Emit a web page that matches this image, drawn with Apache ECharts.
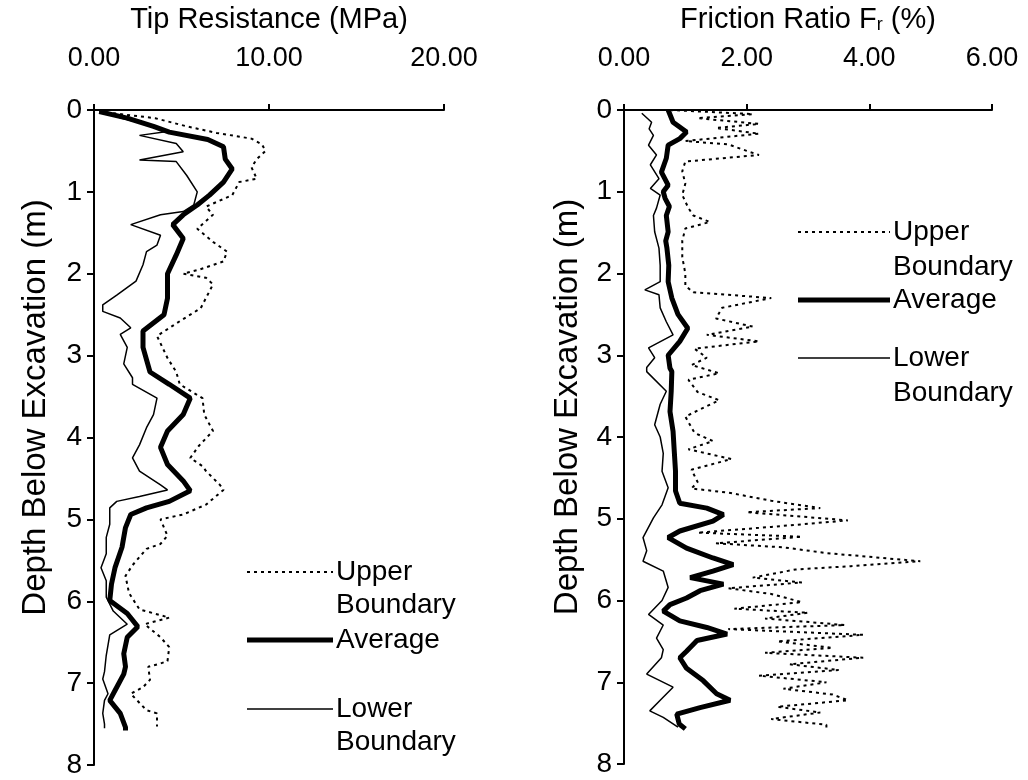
<!DOCTYPE html>
<html>
<head>
<meta charset="utf-8">
<script src="https://cdn.jsdelivr.net/npm/echarts@6/dist/echarts.min.js"></script>
<style>
  html, body { margin: 0; padding: 0; background: #fff; }
  #main { width: 1028px; height: 780px; }
</style>
</head>
<body>
<div id="main"></div>
<script>
// [value, depth (m)]
var tipUpper = [[0.3,0.02],[3.5,0.1],[5.3,0.2],[7.0,0.28],[9.0,0.35],[9.6,0.42],[9.8,0.5],[9.3,0.6],[9.0,0.7],[9.3,0.84],[8.3,0.88],[7.9,1.04],[6.4,1.18],[6.8,1.28],[5.9,1.45],[6.8,1.61],[7.6,1.73],[7.4,1.85],[6.0,1.95],[5.1,2.0],[6.4,2.05],[6.8,2.13],[6.1,2.42],[4.9,2.58],[3.6,2.76],[4.2,3.03],[4.7,3.2],[4.9,3.35],[6.2,3.52],[6.3,3.72],[6.8,3.92],[6.0,4.1],[5.5,4.25],[6.2,4.35],[6.4,4.41],[7.2,4.58],[7.4,4.64],[6.4,4.82],[5.1,4.94],[3.8,5.0],[4.2,5.2],[3.8,5.3],[3.0,5.36],[2.2,5.56],[1.8,5.69],[2.0,5.9],[2.6,6.1],[4.3,6.2],[2.9,6.28],[3.8,6.44],[4.3,6.56],[4.2,6.73],[3.8,6.76],[3.1,6.8],[3.2,6.96],[2.8,7.05],[2.1,7.13],[3.0,7.33],[3.6,7.37],[3.6,7.53]];
var tipAverage = [[0.3,0.02],[1.9,0.1],[3.4,0.2],[4.3,0.27],[6.5,0.36],[7.4,0.45],[7.5,0.6],[7.9,0.72],[7.4,0.88],[6.6,1.04],[5.9,1.16],[5.1,1.28],[4.5,1.4],[5.1,1.57],[4.7,1.77],[4.2,2.0],[4.2,2.3],[4.0,2.5],[2.8,2.7],[2.8,2.9],[3.2,3.2],[4.3,3.35],[5.5,3.52],[5.1,3.72],[4.2,3.92],[3.8,4.12],[4.2,4.33],[5.1,4.53],[5.5,4.65],[4.3,4.78],[3.0,4.86],[2.1,4.94],[1.8,5.1],[1.6,5.34],[1.2,5.59],[1.0,5.79],[0.9,5.99],[1.9,6.15],[2.5,6.31],[1.9,6.44],[1.7,6.64],[1.8,6.8],[1.7,6.89],[1.2,7.09],[0.9,7.21],[1.5,7.37],[1.8,7.54],[1.8,7.58]];
var tipLower = [[0.3,0.02],[1.6,0.1],[3.4,0.2],[4.3,0.26],[2.6,0.31],[4.7,0.41],[5.1,0.51],[2.6,0.61],[4.7,0.63],[5.3,0.8],[5.9,1.0],[5.7,1.16],[5.1,1.24],[3.8,1.28],[2.1,1.4],[3.8,1.53],[3.6,1.65],[3.0,1.73],[2.8,1.89],[2.4,2.09],[1.3,2.26],[0.5,2.38],[0.5,2.46],[1.5,2.54],[2.1,2.66],[1.5,2.74],[1.9,2.9],[1.7,3.1],[2.2,3.27],[2.2,3.35],[3.6,3.52],[3.4,3.72],[3.0,3.88],[2.6,4.09],[2.2,4.25],[2.6,4.41],[3.8,4.58],[4.2,4.64],[2.6,4.72],[1.3,4.78],[0.9,4.86],[0.9,5.06],[0.7,5.22],[0.7,5.42],[0.4,5.59],[0.7,5.75],[0.7,5.95],[1.1,6.12],[1.9,6.28],[0.9,6.41],[0.7,6.66],[0.6,6.86],[0.5,6.95],[0.8,7.13],[0.6,7.21],[0.5,7.37],[0.6,7.5],[0.6,7.55]];

var frUpper = [[0.75,0.0],[2.1,0.05],[1.2,0.1],[2.2,0.17],[1.5,0.22],[2.2,0.29],[1.0,0.38],[1.7,0.42],[2.0,0.5],[2.2,0.55],[1.0,0.63],[0.95,0.75],[1.0,0.9],[0.95,1.04],[1.05,1.2],[1.13,1.29],[1.4,1.37],[1.0,1.45],[0.95,1.6],[0.95,1.8],[1.0,2.0],[1.0,2.15],[1.13,2.23],[2.4,2.3],[1.6,2.42],[1.5,2.55],[2.1,2.65],[1.35,2.75],[2.2,2.83],[1.15,2.92],[1.35,3.03],[1.1,3.12],[1.55,3.22],[1.05,3.3],[1.2,3.45],[1.55,3.55],[1.0,3.75],[1.15,3.95],[1.45,4.05],[1.05,4.15],[1.75,4.27],[1.1,4.4],[1.2,4.55],[1.1,4.63],[1.7,4.68],[2.4,4.78],[3.2,4.87],[2.0,4.92],[3.65,5.02],[2.4,5.1],[1.2,5.17],[2.9,5.22],[1.5,5.3],[2.6,5.35],[3.3,5.42],[4.83,5.52],[3.7,5.58],[2.8,5.62],[2.1,5.72],[2.9,5.78],[1.7,5.85],[2.4,5.92],[2.9,6.02],[1.8,6.1],[3.0,6.15],[2.3,6.22],[3.6,6.3],[1.7,6.35],[3.9,6.42],[2.5,6.5],[3.4,6.58],[2.3,6.64],[3.9,6.7],[2.7,6.78],[3.5,6.85],[2.2,6.92],[3.3,7.0],[2.6,7.08],[3.4,7.15],[3.65,7.22],[2.5,7.3],[3.2,7.37],[2.4,7.45],[3.3,7.52],[3.3,7.58]];
var frAverage = [[0.72,0.0],[0.8,0.15],[1.02,0.27],[0.91,0.35],[0.72,0.43],[0.69,0.59],[0.61,0.76],[0.72,0.92],[0.64,1.0],[0.67,1.08],[0.74,1.18],[0.69,1.29],[0.72,1.49],[0.68,1.6],[0.7,1.69],[0.73,1.9],[0.72,2.1],[0.78,2.3],[0.88,2.5],[1.04,2.67],[0.91,2.83],[0.72,3.0],[0.75,3.16],[0.78,3.2],[0.77,3.44],[0.75,3.69],[0.8,3.93],[0.82,4.18],[0.84,4.42],[0.84,4.66],[0.91,4.81],[1.35,4.87],[1.62,4.95],[1.45,5.03],[0.91,5.15],[0.72,5.23],[1.02,5.36],[1.45,5.48],[1.78,5.56],[1.45,5.64],[1.08,5.72],[1.62,5.8],[1.24,5.88],[1.02,5.97],[0.75,6.05],[0.64,6.13],[0.91,6.25],[1.35,6.33],[1.68,6.41],[1.19,6.49],[1.02,6.62],[0.91,6.7],[1.02,6.83],[1.29,6.98],[1.51,7.14],[1.73,7.22],[1.24,7.31],[0.86,7.39],[0.9,7.51],[1.0,7.57]];
var frLower = [[0.29,0.04],[0.45,0.15],[0.41,0.23],[0.48,0.31],[0.4,0.43],[0.53,0.55],[0.43,0.67],[0.57,0.84],[0.43,0.96],[0.59,1.04],[0.53,1.2],[0.48,1.29],[0.5,1.49],[0.57,1.69],[0.59,1.9],[0.59,2.1],[0.34,2.2],[0.57,2.26],[0.59,2.42],[0.69,2.59],[0.8,2.75],[0.4,2.91],[0.5,3.03],[0.37,3.15],[0.37,3.2],[0.69,3.44],[0.59,3.6],[0.5,3.85],[0.59,4.0],[0.64,4.2],[0.62,4.42],[0.72,4.62],[0.62,4.83],[0.48,4.99],[0.31,5.23],[0.37,5.39],[0.31,5.52],[0.64,5.64],[0.72,5.84],[0.62,6.0],[0.4,6.17],[0.64,6.3],[0.53,6.46],[0.64,6.6],[0.61,6.7],[0.37,6.9],[0.8,7.06],[0.59,7.22],[0.42,7.35],[0.64,7.43],[0.88,7.55]];

var depthTicks = [0, 8, 1];
var tipTicks = [0, 20, 10];
var frTicks = [0, 6, 2];

var FONT = 'Liberation Sans, Arial, sans-serif';
var myChart = echarts.init(document.getElementById('main'));

function xAx(idx, t, name, rich) {
    return {
        type: 'value', gridIndex: idx, position: 'top',
        min: t[0], max: t[1], interval: t[2],
        name: name, nameLocation: 'middle', nameGap: 76,
        nameTextStyle: { color: '#000', fontSize: 29, fontFamily: FONT, rich: rich },
        axisLine: { lineStyle: { color: '#000', width: 2 } },
        axisTick: { inside: false, length: 6, lineStyle: { color: '#000', width: 2 } },
        axisLabel: { color: '#000', fontSize: 27, fontFamily: FONT, margin: 38,
            formatter: function (v) { return v.toFixed(2); } },
        splitLine: { show: false }
    };
}
function yAx(idx, gap) {
    return {
        type: 'value', gridIndex: idx, inverse: true,
        min: depthTicks[0], max: depthTicks[1], interval: depthTicks[2],
        name: 'Depth Below Excavation (m)', nameLocation: 'middle', nameGap: gap,
        nameTextStyle: { color: '#000', fontSize: 33, fontFamily: FONT, padding: [0, 0, 0, 60] },
        axisLine: { lineStyle: { color: '#000', width: 2 } },
        axisTick: { inside: false, length: 7, lineStyle: { color: '#000', width: 2 } },
        axisLabel: { color: '#000', fontSize: 28, fontFamily: FONT, margin: 12 },
        splitLine: { show: false }
    };
}
function ser(idx, data, width, dash) {
    return {
        type: 'line', xAxisIndex: idx, yAxisIndex: idx, data: data,
        showSymbol: false, symbol: 'none', animation: false,
        lineStyle: { color: '#000', width: width, type: dash || 'solid' }
    };
}
function legendBlock(x1, x2, tx, ys, fs) {
    var out = [];
    var specs = [
        { y: ys[0], w: 2, dash: [3, 4], t: 'Upper' },
        { y: ys[2], w: 5, dash: null, t: 'Average' },
        { y: ys[3], w: 1.5, dash: null, t: 'Lower' }
    ];
    specs.forEach(function (s) {
        out.push({ type: 'line', shape: { x1: x1, y1: s.y, x2: x2, y2: s.y },
            style: { stroke: '#000', lineWidth: s.w, lineDash: s.dash } });
        out.push({ type: 'text', x: tx, y: s.y,
            style: { text: s.t, fill: '#000', fontSize: fs, fontFamily: FONT, verticalAlign: 'middle' } });
    });
    [ys[1], ys[4]].forEach(function (y) {
        out.push({ type: 'text', x: tx, y: y,
            style: { text: 'Boundary', fill: '#000', fontSize: fs, fontFamily: FONT, verticalAlign: 'middle' } });
    });
    return out;
}

option = {
    backgroundColor: '#fff',
    animation: false,
    grid: [
        { left: 94, top: 108, width: 350, height: 657 },
        { left: 624, top: 108, width: 368, height: 656 }
    ],
    xAxis: [
        xAx(0, tipTicks, 'Tip Resistance (MPa)'),
        xAx(1, frTicks, '{a|Friction Ratio F}{s|r}{a| (%)}', {
            a: { fontSize: 29, fontFamily: FONT, color: '#000' },
            s: { fontSize: 18, fontFamily: FONT, color: '#000', verticalAlign: 'bottom', padding: [11, 0, 0, 0] }
        })
    ],
    yAxis: [yAx(0, 42), yAx(1, 40)],
    series: [
        ser(0, tipUpper, 2, [3, 4]),
        ser(0, tipAverage, 5),
        ser(0, tipLower, 1.5),
        ser(1, frUpper, 2, [3, 4]),
        ser(1, frAverage, 5),
        ser(1, frLower, 1.5)
    ],
    graphic: legendBlock(247, 333, 336, [572, 605, 640, 709, 742], 28)
        .concat(legendBlock(798, 890, 893, [232, 267, 300, 358, 393], 28))
};

myChart.setOption(option);
</script>
</body>
</html>
